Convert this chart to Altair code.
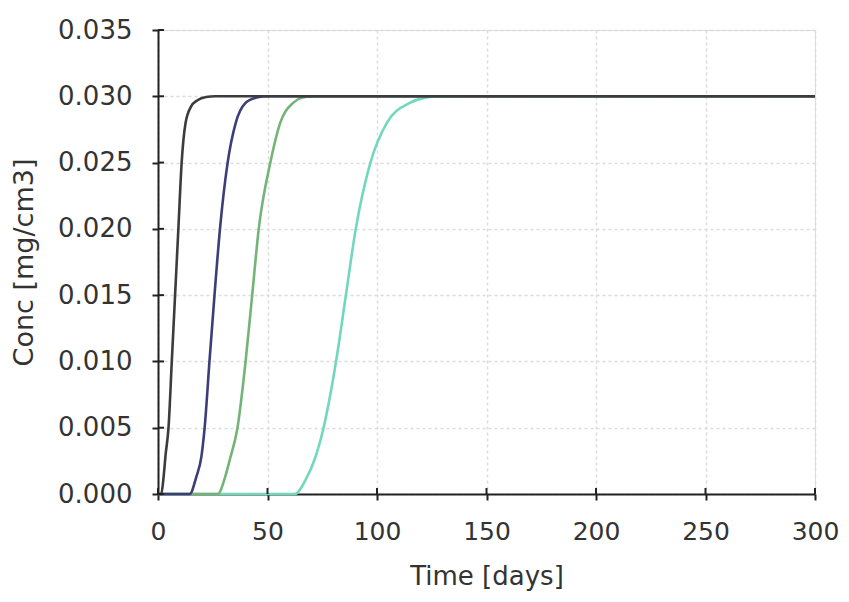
import altair as alt
import pandas as pd

# Time [days] / Conc [mg/cm3]
t_a = [0, 1.5, 2.5, 3.5, 4.8, 6.3, 7.8, 9.3, 10.8, 12.6, 15, 18, 22, 26, 300]
c_a = [0, 0, 0.0012, 0.003, 0.005, 0.010, 0.015, 0.020, 0.025, 0.028, 0.0292, 0.0297, 0.02995, 0.030, 0.030]

t_b = [0, 14.5, 17.5, 19.8, 21.3, 23.5, 25.8, 28.3, 31.8, 35.5, 40, 45, 50, 300]
c_b = [0, 0, 0.0013, 0.0028, 0.005, 0.010, 0.015, 0.020, 0.025, 0.028, 0.0295, 0.0299, 0.030, 0.030]

t_c = [0, 27.3, 30.5, 32.8, 36.3, 40, 43, 46, 51.3, 55.8, 61.7, 66, 71, 300]
c_c = [0, 0, 0.0012, 0.0026, 0.005, 0.010, 0.015, 0.020, 0.025, 0.028, 0.0295, 0.0299, 0.030, 0.030]

t_d = [0, 62.5, 67.5, 71.5, 75.6, 81.3, 85.8, 90.3, 97, 104.5, 115, 122, 128, 300]
c_d = [0, 0, 0.0011, 0.0026, 0.005, 0.010, 0.015, 0.020, 0.025, 0.028, 0.0295, 0.0299, 0.030, 0.030]

series_colors = ["#72d8bc", "#74b478", "#3d3d7a", "#3c3c3c"]
series_t = [t_d, t_c, t_b, t_a]
series_c = [c_d, c_c, c_b, c_a]

x_ticks = [0, 50, 100, 150, 200, 250, 300]
y_ticks = [0.000, 0.005, 0.010, 0.015, 0.020, 0.025, 0.030, 0.035]

W, H = 657, 464
FONT = "DejaVu Sans"

x_scale = alt.Scale(domain=[0, 300], nice=False, zero=False)
y_scale = alt.Scale(domain=[0, 0.035], nice=False, zero=False)

x_axis = alt.Axis(
    title="Time [days]", values=x_ticks, format="d", labelFlush=False,
    grid=True, gridColor="#dcdcdc", gridDash=[3, 3], gridWidth=1.5,
    domainColor="#222", domainWidth=2, tickColor="#222", tickWidth=2, tickSize=6,
    labelFont=FONT, labelFontSize=25, labelColor="#333", labelPadding=19,
    titleFont=FONT, titleFontSize=26, titleColor="#333", titleFontWeight="normal",
    titlePadding=19,
)
y_axis = alt.Axis(
    title="Conc [mg/cm3]", values=y_ticks, format=".3f", labelFlush=False,
    grid=True, gridColor="#dcdcdc", gridDash=[3, 3], gridWidth=1.5,
    domainColor="#222", domainWidth=2, tickColor="#222", tickWidth=2, tickSize=6,
    labelFont=FONT, labelFontSize=26, labelColor="#333", labelPadding=20,
    titleFont=FONT, titleFontSize=27, titleColor="#333", titleFontWeight="normal",
    titlePadding=19,
)

layers = []
for ts, cs, col in zip(series_t, series_c, series_colors):
    df = pd.DataFrame({"t": ts, "c": cs})
    layers.append(
        alt.Chart(df).mark_line(color=col, strokeWidth=2.6, interpolate="monotone").encode(
            x=alt.X("t:Q", scale=x_scale, axis=x_axis),
            y=alt.Y("c:Q", scale=y_scale, axis=y_axis),
        )
    )

# inner halves of the tick marks (ticks cross the axis line)
xt = pd.DataFrame({"t": x_ticks})
yt = pd.DataFrame({"c": y_ticks})
layers.append(
    alt.Chart(xt).mark_rule(color="#222", strokeWidth=2).encode(
        x=alt.X("t:Q", scale=x_scale, axis=x_axis), y=alt.value(H), y2=alt.value(H - 6)
    )
)
layers.append(
    alt.Chart(yt).mark_rule(color="#222", strokeWidth=2).encode(
        y=alt.Y("c:Q", scale=y_scale, axis=y_axis), x=alt.value(0), x2=alt.value(6)
    )
)

chart = alt.layer(*layers).properties(
    width=W, height=H,
    autosize=alt.AutoSizeParams(type="none"),
    padding={"left": 150, "top": 22, "right": 26, "bottom": 100},
).configure_view(stroke=None).configure(background="white")

chart.save("out.html", embed_options={"renderer": "svg", "actions": False})
